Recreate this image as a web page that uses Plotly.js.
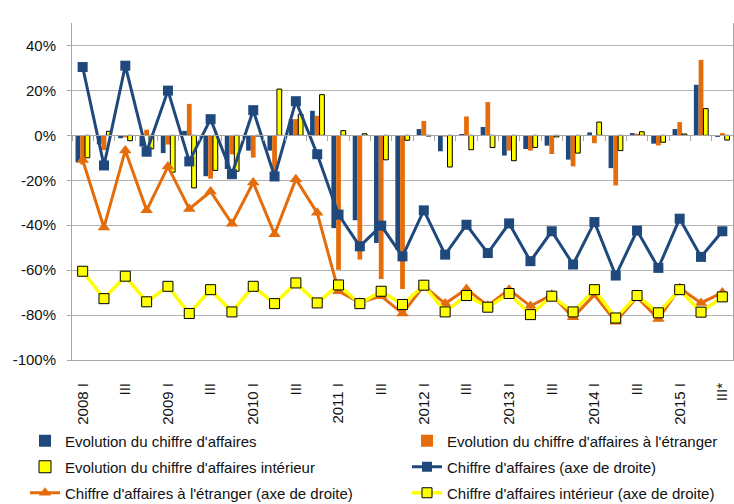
<!DOCTYPE html>
<html>
<head>
<meta charset="utf-8">
<script src="https://cdn.plot.ly/plotly-3.0.1.min.js"></script>
<style>html,body{margin:0;padding:0;background:#fff;}#chart{width:734px;height:504px;}</style>
</head>
<body>
<div id="chart"></div>
<script>
// Quarters 2008 I .. 2015 III*
const categories = [
  "2008 I","2008 II","2008 III","2008 IV",
  "2009 I","2009 II","2009 III","2009 IV",
  "2010 I","2010 II","2010 III","2010 IV",
  "2011 I","2011 II","2011 III","2011 IV",
  "2012 I","2012 II","2012 III","2012 IV",
  "2013 I","2013 II","2013 III","2013 IV",
  "2014 I","2014 II","2014 III","2014 IV",
  "2015 I","2015 II","2015 III*"
];
const tickCategories = ["2008 I","2008 III","2009 I","2009 III","2010 I","2010 III","2011 I","2011 III",
  "2012 I","2012 III","2013 I","2013 III","2014 I","2014 III","2015 I","2015 III*"];
const tickLabels = ["2008 I","III","2009 I","III","2010 I","III","2011 I","III",
  "2012 I","III","2013 I","III","2014 I","III","2015 I","III*"];
const yTickVals = [-100,-80,-60,-40,-20,0,20,40];
const yTickLabels = ["-100%","-80%","-60%","-40%","-20%","0%","20%","40%"];

// Bars (left axis, %)
const evolTotal = [-12,-4,-1.3,-5,-7.9,2,-18.2,-15,-6.8,-6.8,7.2,10.9,-41.3,-37.8,-47.9,-51,
  2.8,-7.1,0.6,3.7,-9,-6.1,-4.6,-10.8,1.3,-14.6,1,-3.7,2.8,22.5,-0.7];
const evolForeign = [-13,-6.5,-0.9,2.5,-4.1,14,-19.3,-8.5,-9.9,-17,7.2,8.7,-59.8,-55.3,-63.9,-68.4,
  6.4,-0.5,8.4,14.8,-6.8,-6.8,-8.3,-13.8,-3.5,-22.3,0.7,-4.5,5.9,33.6,1];
const evolDomestic = [-10,1.8,-2.4,-6,-16.4,-23.4,-15.6,-16,-0.3,20.6,9.4,18.1,2.1,0.7,-10.9,-2.2,
  -0.3,-14.1,-6.4,-5.4,-11.3,-5.4,-0.7,-7.9,5.9,-6.8,1.6,-3.1,0.6,11.9,-2.1];

// Lines (right axis, hidden; expressed in left-axis units)
const caTotal = [30.4,-13.4,31,-7.3,19.9,-11.6,7.2,-17.3,11.2,-18.3,15.2,-8.4,-35.3,-49.4,-40.2,-53.9,
  -33.4,-53.1,-39.8,-52.4,-39.2,-56,-42.7,-57.5,-38.6,-62.4,-42.4,-59,-37.1,-54.1,-42.7];
const caForeign = [-11,-41,-6.7,-33.4,-13.9,-32.8,-25,-39.3,-21,-44,-19.5,-34.5,-69.4,-74.5,-71.6,-79.3,
  -67,-74.9,-68.4,-75.8,-68.7,-76,-71,-81,-71,-83,-72,-81.7,-68,-74.6,-70];
const caDomestic = [-60.5,-72.7,-62.7,-74.1,-67.2,-79.3,-68.7,-78.6,-67.2,-74.9,-65.7,-74.6,-66.6,-74.9,-69.4,-75.3,
  -66.7,-78.6,-71.3,-76.5,-70.4,-79.8,-71.6,-78.6,-68.7,-81.3,-71.3,-79,-68.7,-78.7,-71.9];

const BLUE = "#1F497D", ORANGE = "#E46C0A", YELLOW = "#FFFF00";
const FONT = '"Liberation Sans Narrow", "Arial Narrow", "Liberation Sans", Arial, sans-serif';

const traces = [
  {type:"bar", name:"Evolution du chiffre d'affaires", x:categories, y:evolTotal,
   marker:{color:BLUE}, legend:"legend", hoverinfo:"skip"},
  {type:"bar", name:"Evolution du chiffre d'affaires à l'étranger", x:categories, y:evolForeign,
   marker:{color:ORANGE}, legend:"legend2", hoverinfo:"skip"},
  {type:"bar", name:"Evolution du chiffre d'affaires intérieur", x:categories, y:evolDomestic,
   marker:{color:YELLOW, line:{color:"#000", width:1}}, legend:"legend3", hoverinfo:"skip"},
  {type:"scatter", mode:"lines+markers", name:"Chiffre d'affaires (axe de droite)", x:categories, y:caTotal,
   xaxis:"x2", yaxis:"y2", line:{color:BLUE, width:3}, marker:{symbol:"square", size:10, color:BLUE},
   legend:"legend4", hoverinfo:"skip"},
  {type:"scatter", mode:"lines+markers", name:"Chiffre d'affaires à l'étranger (axe de droite)", x:categories, y:caForeign,
   xaxis:"x2", yaxis:"y2", line:{color:ORANGE, width:3}, marker:{symbol:"triangle-up", size:11, color:ORANGE},
   legend:"legend5", hoverinfo:"skip"},
  {type:"scatter", mode:"lines+markers", name:"Chiffre d'affaires intérieur (axe de droite)", x:categories, y:caDomestic,
   xaxis:"x2", yaxis:"y2", line:{color:YELLOW, width:3.5}, marker:{symbol:"square", size:10, color:YELLOW, line:{color:"#000", width:1}},
   legend:"legend6", hoverinfo:"skip"}
];

function mkLegend(x, y) {
  return {orientation:"h", xref:"container", yref:"container", xanchor:"left", yanchor:"middle",
    x:x, y:y, bgcolor:"rgba(0,0,0,0)", borderwidth:0,
    font:{family:FONT, size:15, color:"#111"}, itemclick:false, itemdoubleclick:false};
}
const colL = 25/734, colR = 407/734;
const row1 = 1 - 441/504, row2 = 1 - 467/504, row3 = 1 - 493/504;

const layout = {
  width:734, height:504,
  margin:{l:72, r:1, t:23, b:144, pad:0, autoexpand:false},
  paper_bgcolor:"#fff", plot_bgcolor:"#fff",
  font:{family:FONT, size:15, color:"#222"},
  barmode:"group", bargap:0.33, bargroupgap:0,
  showlegend:true,
  xaxis:{type:"category", categoryorder:"array", categoryarray:categories, range:[-0.5,30.5],
    tickmode:"array", tickvals:tickCategories, ticktext:tickLabels, tickangle:-90,
    ticks:"", showline:true, linecolor:"#a6a6a6", linewidth:1, showgrid:false, zeroline:false,
    ticklabelstandoff:16, tickfont:{family:FONT, size:15, color:"#111"}},
  xaxis2:{type:"category", overlaying:"x", matches:"x", anchor:"free", position:2/3,
    showline:true, linecolor:"#a6a6a6", linewidth:1, ticks:"outside", tickson:"boundaries",
    ticklen:5, tickcolor:"#a6a6a6", showticklabels:false, showgrid:false, zeroline:false},
  yaxis:{range:[-100,50], tickmode:"array", tickvals:yTickVals, ticktext:yTickLabels,
    showgrid:true, gridcolor:"#b3b3b3", gridwidth:1, showline:true, linecolor:"#a6a6a6",
    ticks:"outside", ticklen:4, tickcolor:"#a6a6a6", zeroline:false, ticklabelstandoff:8,
    tickfont:{family:FONT, size:15, color:"#111"}},
  yaxis2:{overlaying:"y", anchor:"x2", side:"right", range:[-100,50], showgrid:false, showticklabels:false,
    showline:true, linecolor:"#a6a6a6", ticks:"", zeroline:false},
  legend:mkLegend(colL, row1),
  legend2:mkLegend(colR, row1),
  legend3:mkLegend(colL, row2),
  legend4:mkLegend(colR, row2),
  legend5:mkLegend(colL, row3),
  legend6:mkLegend(colR, row3)
};

Plotly.newPlot("chart", traces, layout, {displayModeBar:false, staticPlot:true});
</script>
</body>
</html>
